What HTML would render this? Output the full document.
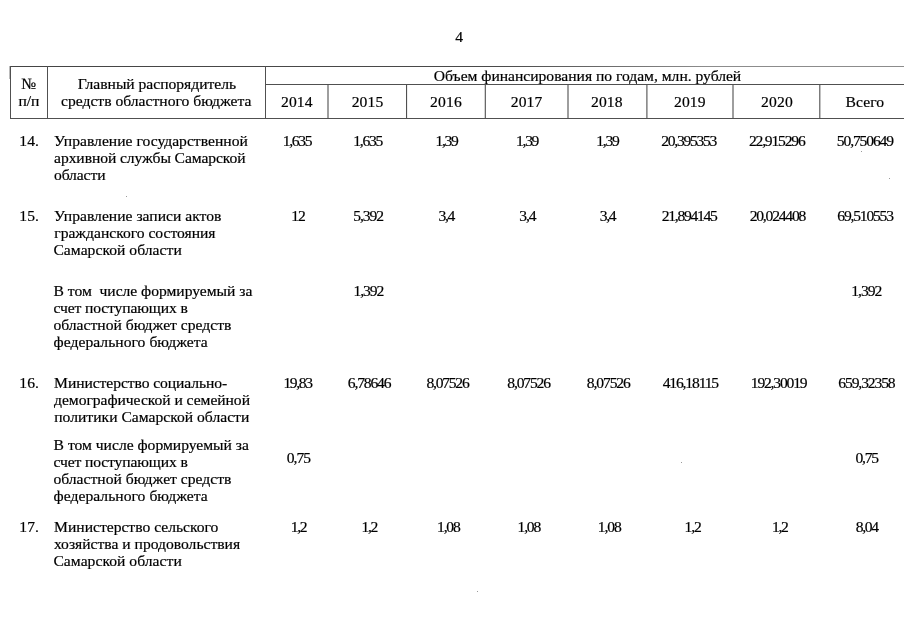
<!DOCTYPE html>
<html lang="ru"><head><meta charset="utf-8"><title>4</title>
<style>
html,body{margin:0;padding:0;background:#fff;}
body{width:905px;height:640px;position:relative;overflow:hidden;font-family:"Liberation Serif","DejaVu Serif",serif;font-size:15.6px;line-height:20px;color:#000;-webkit-text-stroke:0.2px #000;}
.t{position:absolute;white-space:pre;height:20px;}
svg{position:absolute;left:0;top:0;}
</style></head><body>
<svg width="905" height="640" viewBox="0 0 905 640">
<defs><linearGradient id="tg" x1="10" x2="904" y1="0" y2="0" gradientUnits="userSpaceOnUse"><stop offset="0" stop-color="#444"/><stop offset="0.55" stop-color="#4a4a4a"/><stop offset="0.78" stop-color="#8c8c8c"/><stop offset="1" stop-color="#8c8c8c"/></linearGradient></defs>
<rect x="10" y="66" width="894" height="1" fill="url(#tg)"/>
<g fill="#505050">
<rect x="265" y="84" width="639" height="1"/>
<rect x="10" y="118" width="894" height="1"/>
<rect x="10" y="66" width="1" height="53"/>
<rect x="47" y="66" width="1" height="53"/>
<rect x="265" y="66" width="1" height="53"/>
<rect x="327.45" y="84" width="1.1" height="35"/>
<rect x="406.00" y="84" width="1.1" height="35"/>
<rect x="484.75" y="84" width="1.1" height="35"/>
<rect x="567.45" y="84" width="1.1" height="35"/>
<rect x="646.35" y="84" width="1.1" height="35"/>
<rect x="732.45" y="84" width="1.1" height="35"/>
<rect x="819.25" y="84" width="1.1" height="35"/>
</g>
<rect x="9" y="66" width="1" height="13" fill="#bbb"/>
<g fill="#9a9a9a"><rect x="477" y="591" width="1" height="1"/><rect x="681" y="462" width="1" height="1"/><rect x="861" y="151" width="1" height="1"/><rect x="889" y="178" width="1" height="1"/><rect x="126" y="196" width="1" height="1"/></g>
</svg>

<div class="t" style="left:455.23px;top:26.73px">4</div>
<div class="t" style="left:21.23px;top:73.74px">№</div>
<div class="t" style="left:18.57px;top:90.74px;letter-spacing:-0.12px">п/п</div>
<div class="t" style="left:77.70px;top:73.74px;letter-spacing:-0.01px">Главный распорядитель</div>
<div class="t" style="left:61.03px;top:90.74px;letter-spacing:0.01px">средств областного бюджета</div>
<div class="t" style="left:433.83px;top:65.74px;letter-spacing:-0.01px">Объем финансирования по годам, млн. рублей</div>
<div class="t" style="left:280.93px;top:91.74px;letter-spacing:0.16px">2014</div>
<div class="t" style="left:351.63px;top:91.74px;letter-spacing:0.16px">2015</div>
<div class="t" style="left:430.03px;top:91.74px;letter-spacing:0.17px">2016</div>
<div class="t" style="left:510.83px;top:91.74px;letter-spacing:0.10px">2017</div>
<div class="t" style="left:590.93px;top:91.74px;letter-spacing:0.16px">2018</div>
<div class="t" style="left:674.03px;top:91.74px;letter-spacing:0.12px">2019</div>
<div class="t" style="left:760.93px;top:91.74px;letter-spacing:0.26px">2020</div>
<div class="t" style="left:845.50px;top:91.74px;letter-spacing:0.08px">Всего</div>
<div class="t" style="left:19.37px;top:130.74px;letter-spacing:0.07px">14.</div>
<div class="t" style="left:19.37px;top:205.74px;letter-spacing:0.07px">15.</div>
<div class="t" style="left:19.37px;top:372.73px;letter-spacing:0.07px">16.</div>
<div class="t" style="left:19.37px;top:516.74px;letter-spacing:0.07px">17.</div>
<div class="t" style="left:54.10px;top:130.74px;letter-spacing:0.02px">Управление государственной</div>
<div class="t" style="left:54.10px;top:147.74px;letter-spacing:-0.08px">архивной службы Самарской</div>
<div class="t" style="left:53.93px;top:164.74px;letter-spacing:-0.09px">области</div>
<div class="t" style="left:54.10px;top:205.74px;letter-spacing:0.02px">Управление записи актов</div>
<div class="t" style="left:54.27px;top:222.74px;letter-spacing:-0.01px">гражданского состояния</div>
<div class="t" style="left:53.43px;top:239.74px;letter-spacing:0.04px">Самарской области</div>
<div class="t" style="left:53.60px;top:280.73px;letter-spacing:-0.02px">В том&nbsp; числе формируемый за</div>
<div class="t" style="left:53.43px;top:297.73px;letter-spacing:-0.11px">счет поступающих в</div>
<div class="t" style="left:53.43px;top:314.73px;letter-spacing:0.02px">областной бюджет средств</div>
<div class="t" style="left:53.60px;top:331.73px;letter-spacing:0.04px">федерального бюджета</div>
<div class="t" style="left:54.10px;top:372.73px;letter-spacing:-0.07px">Министерство социально-</div>
<div class="t" style="left:54.10px;top:389.73px;letter-spacing:-0.04px">демографической и семейной</div>
<div class="t" style="left:54.27px;top:406.73px;letter-spacing:0.01px">политики Самарской области</div>
<div class="t" style="left:53.60px;top:434.73px">В том числе формируемый за</div>
<div class="t" style="left:53.43px;top:451.73px;letter-spacing:-0.11px">счет поступающих в</div>
<div class="t" style="left:53.43px;top:468.73px;letter-spacing:0.02px">областной бюджет средств</div>
<div class="t" style="left:53.60px;top:485.73px;letter-spacing:0.04px">федерального бюджета</div>
<div class="t" style="left:54.10px;top:516.74px">Министерство сельского</div>
<div class="t" style="left:53.93px;top:533.74px">хозяйства и продовольствия</div>
<div class="t" style="left:53.43px;top:550.74px;letter-spacing:0.04px">Самарской области</div>
<div class="t" style="left:282.83px;top:130.74px;letter-spacing:-1.35px">1,635</div>
<div class="t" style="left:353.27px;top:130.74px;letter-spacing:-1.29px">1,635</div>
<div class="t" style="left:435.57px;top:130.74px;letter-spacing:-1.35px">1,39</div>
<div class="t" style="left:516.07px;top:130.74px;letter-spacing:-1.31px">1,39</div>
<div class="t" style="left:596.37px;top:130.74px;letter-spacing:-1.31px">1,39</div>
<div class="t" style="left:661.33px;top:130.74px;letter-spacing:-1.28px">20,395353</div>
<div class="t" style="left:748.93px;top:130.74px;letter-spacing:-1.18px">22,915296</div>
<div class="t" style="left:836.87px;top:130.74px;letter-spacing:-1.14px">50,750649</div>
<div class="t" style="left:291.17px;top:205.74px;letter-spacing:-1.03px">12</div>
<div class="t" style="left:353.17px;top:205.74px;letter-spacing:-1.06px">5,392</div>
<div class="t" style="left:438.62px;top:205.74px;letter-spacing:-1.35px">3,4</div>
<div class="t" style="left:519.37px;top:205.74px;letter-spacing:-1.10px">3,4</div>
<div class="t" style="left:599.87px;top:205.74px;letter-spacing:-1.35px">3,4</div>
<div class="t" style="left:661.83px;top:205.74px;letter-spacing:-1.28px">21,894145</div>
<div class="t" style="left:749.63px;top:205.74px;letter-spacing:-1.19px">20,024408</div>
<div class="t" style="left:837.33px;top:205.74px;letter-spacing:-1.20px">69,510553</div>
<div class="t" style="left:353.47px;top:280.73px;letter-spacing:-1.08px">1,392</div>
<div class="t" style="left:851.37px;top:280.73px;letter-spacing:-1.06px">1,392</div>
<div class="t" style="left:283.43px;top:372.73px;letter-spacing:-1.35px">19,83</div>
<div class="t" style="left:347.83px;top:372.73px;letter-spacing:-1.18px">6,78646</div>
<div class="t" style="left:426.53px;top:372.73px;letter-spacing:-1.25px">8,07526</div>
<div class="t" style="left:507.33px;top:372.73px;letter-spacing:-1.17px">8,07526</div>
<div class="t" style="left:586.83px;top:372.73px;letter-spacing:-1.12px">8,07526</div>
<div class="t" style="left:662.67px;top:372.73px;letter-spacing:-1.15px">416,18115</div>
<div class="t" style="left:750.77px;top:372.73px;letter-spacing:-1.18px">192,30019</div>
<div class="t" style="left:838.33px;top:372.73px;letter-spacing:-1.12px">659,32358</div>
<div class="t" style="left:286.83px;top:447.73px;letter-spacing:-1.03px">0,75</div>
<div class="t" style="left:855.53px;top:447.73px;letter-spacing:-1.23px">0,75</div>
<div class="t" style="left:290.67px;top:516.74px;letter-spacing:-1.27px">1,2</div>
<div class="t" style="left:361.55px;top:516.74px;letter-spacing:-1.35px">1,2</div>
<div class="t" style="left:437.07px;top:516.74px;letter-spacing:-1.21px">1,08</div>
<div class="t" style="left:517.57px;top:516.74px;letter-spacing:-1.21px">1,08</div>
<div class="t" style="left:597.87px;top:516.74px;letter-spacing:-1.14px">1,08</div>
<div class="t" style="left:684.57px;top:516.74px;letter-spacing:-1.17px">1,2</div>
<div class="t" style="left:772.05px;top:516.74px;letter-spacing:-1.35px">1,2</div>
<div class="t" style="left:855.79px;top:516.74px;letter-spacing:-1.35px">8,04</div>
</body></html>
